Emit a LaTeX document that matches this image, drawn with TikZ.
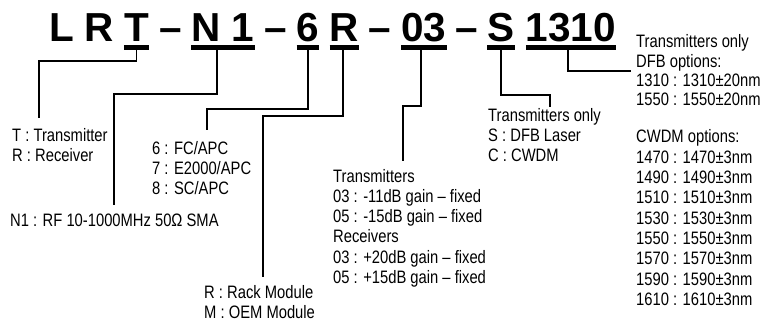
\documentclass[tikz,border=0pt]{standalone}
\usepackage{fontspec}
\setmainfont{Liberation Sans}
\newfontfamily\narrowfont{Liberation Sans}[FakeStretch=0.82]
\usepackage{tikz}
\usetikzlibrary{positioning}

\begin{document}
\begin{tikzpicture}[x=1pt, y=-1pt,
    code/.style={anchor=base, inner sep=0pt,
                 font=\fontsize{40.5}{40}\selectfont\bfseries},
    uline/.style={line width=5pt},
    conn/.style={line width=1.1pt},
    opt/.style={anchor=base west, inner sep=0pt,
                font=\narrowfont\fontsize{18}{20}\selectfont}
]
\useasboundingbox (0,0) rectangle (763,323);

% part number
\node[code] (kL)  at (62,42)    {L};
\node[code] (kR)  at (99.5,42)  {R};
\node[code] (kT)  at (136.5,42) {T};
\node[code] (kd1) at (171,42)   {--};
\node[code] (kN)  at (223,42)   {N 1};
\node[code] (kd2) at (276,42)   {--};
\node[code] (k6)  at (308,42)   {6};
\node[code] (kRM) at (344.5,42) {R};
\node[code] (kd3) at (380,42)   {--};
\node[code] (k03) at (424,42)   {03};
\node[code] (kd4) at (466.5,42) {--};
\node[code] (kS)  at (501,42)   {S};
\node[code] (kW)  at (571,42)   {1310};

\foreach \k in {kT,kN,k6,kRM,k03,kS,kW}
  \draw[uline] ([yshift=-5.5pt]\k.base west) -- ([yshift=-5.5pt]\k.base east);

% option lists
\foreach \t [count=\i from 0] in {T : Transmitter, R : Receiver}
  \node[opt] (type\i) at (12,{142+20*\i}) {\t};
\node[opt] (rf0) at (10,227) {N1 : RF 10-1000MHz 50Ω SMA};
\foreach \t [count=\i from 0] in {6 : FC/APC, 7 : E2000/APC, 8 : SC/APC}
  \node[opt] (fc\i) at (152,{155+20*\i}) {\t};
\foreach \t [count=\i from 0] in {R : Rack Module, M : OEM Module}
  \node[opt] (mod\i) at (204,{298+20*\i}) {\t};
\foreach \t [count=\i from 0] in {Transmitters, 03 : -11dB gain – fixed,
    05 : -15dB gain – fixed, Receivers, 03 : +20dB gain – fixed,
    05 : +15dB gain – fixed}
  \node[opt] (gain\i) at (333,{183+20*\i}) {\t};
\foreach \t [count=\i from 0] in {Transmitters only, S : DFB Laser, C : CWDM}
  \node[opt] (src\i) at (488,{122+20*\i}) {\t};
\foreach \t [count=\i from 0] in {Transmitters only, DFB options:,
    1310 : 1310±20nm, 1550 : 1550±20nm}
  \node[opt] (dfb\i) at (636,{48+19.3*\i}) {\t};
\foreach \t [count=\i from 0] in {CWDM options:, 1470 : 1470±3nm,
    1490 : 1490±3nm, 1510 : 1510±3nm, 1530 : 1530±3nm, 1550 : 1550±3nm,
    1570 : 1570±3nm, 1590 : 1590±3nm, 1610 : 1610±3nm}
  \node[opt] (cw\i) at (636,{143+20.3*\i}) {\t};

% leader lines
\coordinate (eT)  at (39,118);
\coordinate (eN)  at (114,205);
\coordinate (e6)  at (207,130);
\coordinate (eRM) at (263,277);
\coordinate (e03) at (403,161);
\coordinate (eS)  at (550,107);
\coordinate (eW)  at (631,71);

\draw[conn] ([yshift=-8pt]kT.base) -- ++(0,11) -| (eT);
\draw[conn] ([xshift=-6pt,yshift=-8pt]kN.base) -- ++(0,44) -| (eN);
\draw[conn] ([yshift=-8pt]k6.base) -- ++(0,59) -| (e6);
\draw[conn] ([xshift=-1.5pt,yshift=-8pt]kRM.base) -- ++(0,66) -| (eRM);
\draw[conn] ([xshift=-3pt,yshift=-8pt]k03.base) -- ++(0,56) -| (e03);
\draw[conn] ([yshift=-8pt]kS.base) -- ++(0,45) -| (eS);
\draw[conn] ([xshift=-3pt,yshift=-8pt]kW.base) |- (eW);
\end{tikzpicture}
\end{document}
